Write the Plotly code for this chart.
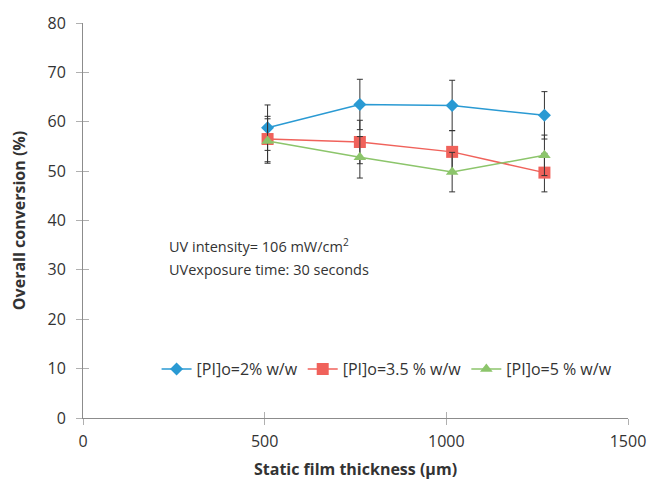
import plotly.graph_objects as go

thickness = [508, 762, 1016, 1270]
pi2 = [58.8, 63.5, 63.3, 61.3]
pi2_err = [4.6, 5.1, 5.1, 4.8]
pi35 = [56.5, 55.9, 53.9, 49.7]
pi35_err = [4.6, 4.4, 4.3, 3.9]
pi5 = [56.1, 52.8, 49.8, 53.2]
pi5_err = [4.5, 4.2, 4.0, 4.1]

names = ["[PI]o=2% w/w", "[PI]o=3.5 % w/w", "[PI]o=5 % w/w"]
colors = ["#2a9ad3", "#f0625b", "#8cc56b"]
symbols = ["diamond", "square", "triangle-up"]
sizes = [10, 12, 11]

FONT = "Open Sans"

fig = go.Figure()
for y, e, n, c, s, sz in zip([pi2, pi35, pi5], [pi2_err, pi35_err, pi5_err], names, colors, symbols, sizes):
    fig.add_trace(go.Scatter(
        x=thickness, y=y, name=n, mode="lines+markers",
        line=dict(color=c, width=1.5),
        marker=dict(symbol=s, size=sz, color=c),
        error_y=dict(type="data", array=e, visible=True, color="#333333", thickness=1, width=3),
    ))

axis_common = dict(showgrid=False, zeroline=False, showline=True, linecolor="#8c8c8c", linewidth=1,
                   ticks="outside", ticklen=6, tickcolor="#b0b0b0", tickwidth=1, automargin=False)

fig.update_layout(
    width=651, height=483,
    margin=dict(l=83, r=23, t=23, b=65),
    paper_bgcolor="white", plot_bgcolor="white",
    font=dict(family=FONT, color="#333333"),
    xaxis=dict(range=[0, 1500], tickvals=[0, 500, 1000, 1500], tickfont=dict(size=16, color="#333333"),
               ticklabelstandoff=3,
               title=dict(text="<b>Static film thickness (µm)</b>", font=dict(size=16, color="#333333"), standoff=12),
               **axis_common),
    yaxis=dict(range=[0, 80], tickvals=list(range(0, 90, 10)), tickfont=dict(size=16, color="#333333"),
               ticklabelstandoff=7,
               title=dict(text="<b>Overall conversion (%)</b>", font=dict(size=16, color="#333333"), standoff=17),
               **axis_common),
    xaxis2=dict(range=[0, 1500], overlaying="x", tickvals=[0, 500, 1000, 1500], showticklabels=False,
                showgrid=False, zeroline=False, ticks="inside", ticklen=6, tickcolor="#b0b0b0", automargin=False),
    yaxis2=dict(range=[0, 80], overlaying="y", tickvals=list(range(0, 90, 10)), showticklabels=False,
                showgrid=False, zeroline=False, ticks="inside", ticklen=6, tickcolor="#b0b0b0", automargin=False),
    legend=dict(orientation="h", x=0.135, y=0.124, xanchor="left", yanchor="middle",
                font=dict(size=16, color="#333333"), bgcolor="rgba(0,0,0,0)", itemwidth=30, tracegroupgap=0),
    showlegend=True,
)
fig.add_trace(go.Scatter(x=[None], y=[None], xaxis="x2", yaxis="y2", showlegend=False, hoverinfo="skip"))

fig.add_annotation(xref="paper", yref="paper", x=0.155, y=0.436, xanchor="left", yanchor="middle",
                   showarrow=False, align="left",
                   text="UV intensity= 106 mW/cm<sup>2</sup>",
                   font=dict(size=14.5, color="#333333"))
fig.add_annotation(xref="paper", yref="paper", x=0.155, y=0.375, xanchor="left", yanchor="middle",
                   showarrow=False, align="left",
                   text="UVexposure time: 30 seconds",
                   font=dict(size=14.5, color="#333333"))

fig.write_html("out.html")
